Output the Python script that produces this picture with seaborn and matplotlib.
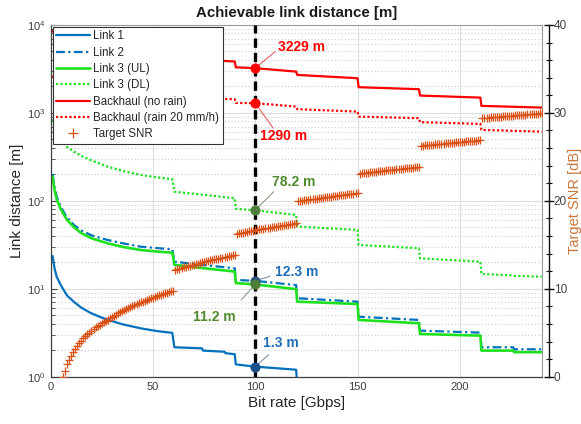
import numpy as np
import seaborn as sns
import matplotlib.pyplot as plt
from matplotlib.ticker import LogLocator, MultipleLocator, NullFormatter

### DATA

# Link 1
rate_link1 = [1, 2, 3, 5, 8, 11.4, 15, 19.6, 24, 27.8, 35, 44, 52, 59.5, 60.5,
              74, 74.5, 85, 85.5, 90, 90.5, 100, 110, 120, 120.5]
dist_link1 = [23.6, 16.8, 13.7, 11.0, 8.4, 7.1, 6.1, 5.3, 4.8, 4.45, 3.95, 3.55, 3.3, 3.15, 2.16,
              2.1, 1.98, 1.92, 1.85, 1.8, 1.38, 1.3, 1.25, 1.2, 0.8]

# Link 2 / Link 3 share the same rate breakpoints
rate_link23 = [1, 2, 3, 5, 8, 11.4, 15, 20, 27.8, 35, 44, 52, 59.5, 60.5, 75, 90, 90.5, 100,
               120, 120.5, 150, 150.5, 180, 180.5, 210, 210.5, 226, 226.5, 240]
dist_link2 = [202, 140, 112, 85, 65, 53.2, 46, 40.5, 35.9, 33, 30.1, 29, 28.1, 20.3, 18.6, 17.1, 12.6, 12.3,
              11.0, 7.8, 7.13, 4.81, 4.42, 3.34, 3.17, 2.16, 2.16, 2.05, 2.05]
dist_ul = [188, 130, 104, 80, 61, 50.1, 43, 37.5, 32.9, 30, 27.6, 26.5, 25.7, 18.7, 17.1, 15.7, 11.6, 11.2,
           9.9, 7.13, 6.71, 4.42, 4.05, 3.06, 2.93, 1.98, 1.98, 1.90, 1.90]
dist_dl = [850, 690, 600, 493, 410, 363, 325, 288, 245, 220, 197, 185, 176, 127, 117, 107, 81, 78.2,
           69, 50.9, 46.7, 31.5, 28.9, 22.2, 20.3, 14.7, 14.2, 14.0, 13.7]

# Backhaul
rate_bh = [0.5, 10, 30, 59.5, 60.5, 90, 90.5, 100, 120, 120.5, 150, 150.5, 180, 180.5, 210, 210.5, 240]
dist_bh = [8600, 6500, 5400, 4800, 4200, 3840, 3300, 3229, 2950, 2705, 2480, 1960, 1860, 1574, 1493, 1202, 1149]
dist_bh_rain = [2600, 2100, 1850, 1650, 1500, 1430, 1300, 1290, 1180, 1102, 1035, 908, 871, 784, 750, 641, 612]

# Target SNR [dB], one value per Gbps, segment start rates
snr_start = [6, 61, 91, 121, 151, 181, 211]
snr_seg1 = [0.0, 0.7, 1.4, 1.9, 2.4, 2.8, 3.15, 3.5, 3.8, 4.1, 4.35, 4.6, 4.8, 5.0, 5.2, 5.4, 5.6, 5.75,
            5.9, 6.05, 6.2, 6.35, 6.5, 6.63, 6.78, 6.92, 7.06, 7.19, 7.32, 7.45, 7.57, 7.69, 7.81, 7.92,
            8.03, 8.13, 8.24, 8.34, 8.44, 8.54, 8.63, 8.73, 8.82, 8.91, 9.0, 9.08, 9.17, 9.25, 9.33, 9.41,
            9.49, 9.57, 9.64, 9.72, 9.79]
snr_seg2 = [12.15, 12.22, 12.29, 12.36, 12.43, 12.49, 12.56, 12.62, 12.69, 12.75, 12.81, 12.87, 12.93,
            12.99, 13.05, 13.11, 13.16, 13.22, 13.27, 13.33, 13.38, 13.44, 13.49, 13.54, 13.59, 13.64,
            13.69, 13.74, 13.79, 13.84]
snr_seg3 = [16.25, 16.30, 16.34, 16.39, 16.44, 16.48, 16.53, 16.57, 16.62, 16.66, 16.70, 16.75, 16.79,
            16.83, 16.87, 16.91, 16.95, 16.99, 17.03, 17.07, 17.11, 17.15, 17.19, 17.23, 17.27, 17.30,
            17.34, 17.38, 17.42, 17.45]
snr_seg4 = [19.95, 19.99, 20.02, 20.06, 20.09, 20.13, 20.16, 20.19, 20.23, 20.26, 20.30, 20.33, 20.36,
            20.39, 20.43, 20.46, 20.49, 20.52, 20.55, 20.58, 20.61, 20.65, 20.68, 20.71, 20.74, 20.77,
            20.80, 20.83, 20.85, 20.88]
snr_seg5 = [23.10, 23.13, 23.16, 23.19, 23.21, 23.24, 23.27, 23.30, 23.32, 23.35, 23.38, 23.41, 23.43,
            23.46, 23.48, 23.51, 23.54, 23.56, 23.59, 23.61, 23.64, 23.66, 23.69, 23.71, 23.74, 23.76,
            23.79, 23.81, 23.84, 23.86]
snr_seg6 = [26.25, 26.27, 26.30, 26.32, 26.35, 26.37, 26.39, 26.41, 26.44, 26.46, 26.48, 26.51, 26.53,
            26.55, 26.57, 26.60, 26.62, 26.64, 26.66, 26.68, 26.71, 26.73, 26.75, 26.77, 26.79, 26.81,
            26.83, 26.85, 26.87, 26.90]
snr_seg7 = [29.40, 29.42, 29.44, 29.46, 29.48, 29.50, 29.52, 29.54, 29.56, 29.58, 29.60, 29.62, 29.64,
            29.66, 29.68, 29.70, 29.72, 29.74, 29.75, 29.77, 29.79, 29.81, 29.83, 29.85, 29.87, 29.89,
            29.90, 29.92, 29.94, 29.96]

# values marked at 100 Gbps
ann_values = [3229, 1290, 78.2, 12.3, 11.2, 1.3]
ann_labels = ["3229 m", "1290 m", "78.2 m", "12.3 m", "11.2 m", "1.3 m"]

### STYLE
BLUE = "#0072BD"
GREEN = "#1fe01f"
RED = "#ff0000"
ORANGE = "#D95319"

sns.set_style("white")
plt.rcParams['font.family'] = ['Liberation Sans', 'DejaVu Sans']
plt.rcParams['mathtext.fontset'] = 'dejavusans'

fig = plt.figure(figsize=(5.81, 4.24), dpi=100)
ax = fig.add_axes([0.087, 0.1116, 0.8455, 0.8295])

ax.set_yscale('log')
ax.set_xlim(0, 240)
ax.set_ylim(1, 1e4)

lw = 1.6
sns.lineplot(x=rate_link1, y=dist_link1, ax=ax, color=BLUE, lw=lw, sort=False, estimator=None, label="Link 1")
sns.lineplot(x=rate_link23, y=dist_link2, ax=ax, color=BLUE, lw=lw, sort=False, estimator=None,
             linestyle=(0, (4, 1.5, 1, 1.5)), label="Link 2")
sns.lineplot(x=rate_link23, y=dist_ul, ax=ax, color=GREEN, lw=lw + 0.3, sort=False, estimator=None,
             label="Link 3 (UL)")
sns.lineplot(x=rate_link23, y=dist_dl, ax=ax, color=GREEN, lw=lw, sort=False, estimator=None,
             linestyle=(0, (1, 1)), label="Link 3 (DL)")
sns.lineplot(x=rate_bh, y=dist_bh, ax=ax, color=RED, lw=lw, sort=False, estimator=None,
             label="Backhaul (no rain)")
sns.lineplot(x=rate_bh, y=dist_bh_rain, ax=ax, color=RED, lw=lw, sort=False, estimator=None,
             linestyle=(0, (1, 1)), label="Backhaul (rain 20 mm/h)")
if ax.get_legend():
    ax.get_legend().remove()

# 100 Gbps marker line
ax.axvline(100, color='k', lw=2.4, linestyle=(0, (2.8, 1.5)), zorder=4)

# annotations
ann_colors = [RED, RED, "#4f8a2b", "#1f6fb4", "#4f8a2b", "#1f6fb4"]
dot_colors = [RED, RED, "#4d7f3a", "#2a4f80", "#4d7f3a", "#1a4f8a"]
ann_text_pos = [(111.2, 5680), (102.4, 547), (108.2, 165), (109.8, 15.7), (69.8, 4.74), (104, 2.4)]
ann_line_end = [(109.8, 4980), (108.8, 670), (109, 127), (107.3, 13.9), (93.1, 7.46), (106.5, 1.77)]
line_colors = ["#e86060", "#e86060", "#8a9a80", "#8090b0", "#9a9a9a", "#8090b0"]
for v, lab, c, dc, tp, le, lc in zip(ann_values, ann_labels, ann_colors, dot_colors,
                                      ann_text_pos, ann_line_end, line_colors):
    ax.plot([100, le[0]], [v, le[1]], color=lc, lw=0.8, zorder=5)
    sns.scatterplot(x=[100], y=[v], ax=ax, color=dc, s=45, edgecolor=dc, zorder=6, legend=False)
    ax.text(tp[0], tp[1], lab, color=c, fontsize=10, fontweight='bold', ha='left', va='center', zorder=6)

# grid & axes look
ax.set_axisbelow(True)
ax.grid(which='major', color='#dedede', lw=0.8, ls='-')
ax.grid(which='minor', axis='y', color='#cfcfcf', lw=0.8, ls=(0, (1, 2)))
ax.yaxis.set_major_locator(LogLocator(base=10))
ax.yaxis.set_minor_locator(LogLocator(base=10, subs=np.arange(2, 10)))
ax.yaxis.set_minor_formatter(NullFormatter())
ax.xaxis.set_major_locator(MultipleLocator(50))
ax.tick_params(axis='both', which='both', direction='in', colors='#404040', labelsize=8)
ax.tick_params(axis='y', which='minor', length=3)
ax.tick_params(axis='y', which='major', length=4)
for s in ['left', 'bottom']:
    ax.spines[s].set_color('#404040')
    ax.spines[s].set_linewidth(0.9)
for s in ['top', 'right']:
    ax.spines[s].set_color('#9a9a9a')
    ax.spines[s].set_linewidth(0.8)

ax.set_xlabel("Bit rate [Gbps]", fontsize=11, color='#262626', labelpad=3)
ax.set_ylabel("Link distance [m]", fontsize=11, color='#262626', labelpad=2)
ax.set_title("Achievable link distance [m]", fontsize=10.8, fontweight='bold', color='#1a1a1a', pad=6)

# right axis: target SNR
ax2 = ax.twinx()
for snr_x0, seg in zip(snr_start, [snr_seg1, snr_seg2, snr_seg3, snr_seg4, snr_seg5, snr_seg6, snr_seg7]):
    sns.scatterplot(x=np.arange(snr_x0, snr_x0 + len(seg)), y=seg, ax=ax2, marker='+', s=36,
                    color=ORANGE, linewidth=0.9, legend=False)
ax2.set_ylim(0, 40)
ax2.set_xlim(0, 240)
ax2.yaxis.set_major_locator(MultipleLocator(10))
ax2.yaxis.set_minor_locator(MultipleLocator(2))
ax2.spines['right'].set_position(('outward', 5))
ax2.spines['right'].set_color('#111111')
ax2.spines['right'].set_linewidth(1.0)
for s in ['left', 'top', 'bottom']:
    ax2.spines[s].set_visible(False)
ax2.tick_params(axis='y', which='major', direction='inout', length=7, width=1, colors='#111111',
                labelsize=8.5, labelcolor='#404040', pad=0)
ax2.tick_params(axis='y', which='minor', direction='inout', length=5, width=0.8, colors='#111111')
ax2.set_ylabel("Target SNR [dB]", fontsize=10.5, color='#c8763a', rotation=90)
ax2.yaxis.set_label_coords(1.053, 0.5)

# legend
handles, labels = ax.get_legend_handles_labels()
handles = [h for h, l in zip(handles, labels) if not l.startswith('_')]
labels = [l for l in labels if not l.startswith('_')]
snr_handle = plt.Line2D([], [], color=ORANGE, marker='+', linestyle='None', markersize=7, markeredgewidth=0.9)
leg = ax2.legend(handles[:6] + [snr_handle], labels[:6] + ["Target SNR"], loc='upper left',
                 bbox_to_anchor=(0.005, 0.995), borderaxespad=0, fontsize=8.3, frameon=True,
                 fancybox=False, edgecolor='#333333', framealpha=1, handlelength=2.9,
                 labelspacing=0.38, borderpad=0.3, handletextpad=0.3)
leg.get_frame().set_linewidth(0.8)

fig.savefig('out.png', dpi=100)
